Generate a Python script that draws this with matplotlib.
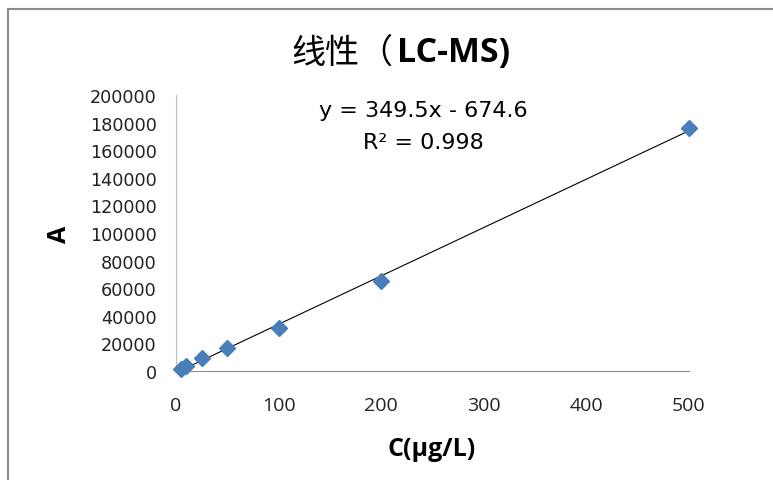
import matplotlib
matplotlib.use('Agg')
import matplotlib.pyplot as plt  # noqa E402
import numpy as np  # noqa E402
from matplotlib.patches import Rectangle  # noqa E402

# concentration (ug/L) and peak area
conc = [5, 10, 25, 50, 100, 200, 500]
area = [1500, 3300, 9400, 16800, 31300, 65500, 175800]
x_ticks = [0, 100, 200, 300, 400, 500]
y_ticks = list(range(0, 200001, 20000))

fig = plt.figure(figsize=(7.73, 4.81), dpi=100)
ax = fig.add_axes([176 / 773, 1 - 372 / 481, (689 - 176) / 773, (372 - 96) / 481])

# outer chart frame, cut off at right and bottom like the screenshot
fig.patches.append(Rectangle((8 / 773, -0.1), 1.2, 1 - 10 / 481 + 0.1,
                             transform=fig.transFigure, fill=False,
                             edgecolor='#8c8c8c', linewidth=1.5))

# trendline fitted from the points
k, b = np.polyfit(conc, area, 1)
xs = np.array([min(conc), max(conc)])
ax.plot(xs, k * xs + b, color='black', linewidth=0.8, zorder=2)
ax.plot(conc, area, linestyle='none', marker='D', markersize=8,
        color='#4a7ebb', zorder=3, clip_on=False)

ax.set_xlim(0, 500)
ax.set_ylim(0, 200000)
ax.set_xticks(x_ticks)
ax.set_yticks(y_ticks)
ax.tick_params(length=0, labelcolor='#222222')
ax.tick_params(axis='x', pad=18)
ax.tick_params(axis='y', pad=14)
for lab in ax.get_xticklabels():
    lab.set_family('Open Sans')
    lab.set_fontsize(14)
for lab in ax.get_yticklabels():
    lab.set_family('DejaVu Sans')
    lab.set_fontsize(12.7)
ax.spines['top'].set_visible(False)
ax.spines['right'].set_visible(False)
ax.spines['left'].set_color('#bfbfbf')
ax.spines['bottom'].set_color('#8c8c8c')

fig.text(393 / 773, 1 - 53 / 481, '线性（', family=['Noto Sans CJK SC'],
         fontsize=24.5, ha='right', va='center')
fig.text(397 / 773, 1 - 53 / 481, 'LC-MS)', family='Open Sans',
         fontsize=24.5, weight='bold', ha='left', va='center')

fig.text(423 / 773, 1 - 111 / 481, 'y = 349.5x - 674.6', family='DejaVu Sans',
         fontsize=16, ha='center', va='center')
fig.text(423 / 773, 1 - 143 / 481, 'R² = 0.998', family='DejaVu Sans',
         fontsize=16, ha='center', va='center')

fig.text(60 / 773, 1 - 234 / 481, 'A', family='Open Sans', fontsize=18,
         weight='bold', rotation=90, ha='center', va='center')
fig.text(432 / 773, 1 - 450 / 481, 'C(μg/L)', family='Open Sans', fontsize=18,
         weight='bold', ha='center', va='center')

fig.savefig('out.png', dpi=100)
plt.close(fig)
